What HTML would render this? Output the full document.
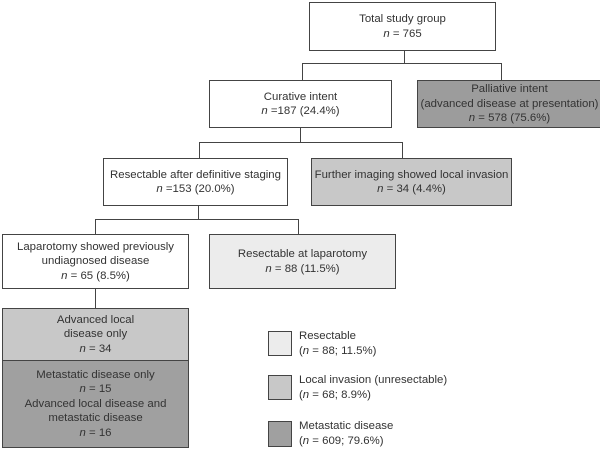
<!DOCTYPE html>
<html><head><style>
body{margin:0;width:600px;height:449px;background:#fff;position:relative;overflow:hidden;font-family:"Liberation Sans",sans-serif;font-size:11.4px;color:#333;}
.b{position:absolute;box-sizing:border-box;border:1px solid #444;display:flex;flex-direction:column;justify-content:center;align-items:center;text-align:center;line-height:14.5px;white-space:nowrap;}
.l{position:absolute;background:#444;}
i{font-style:italic}
.t{position:absolute;line-height:14.5px;}
</style></head><body>
<div class="b" style="left:309px;top:2px;width:187px;height:49px;">Total study group<div><i>n</i> = 765</div></div>
<div class="l" style="left:404px;top:51px;width:1px;height:12px"></div>
<div class="l" style="left:302px;top:63px;width:200px;height:1px"></div>
<div class="l" style="left:302px;top:63px;width:1px;height:17px"></div>
<div class="l" style="left:501px;top:63px;width:1px;height:17px"></div>
<div class="b" style="left:209px;top:80px;width:183px;height:48px;">Curative intent<div><i>n</i> =187 (24.4%)</div></div>
<div class="b" style="left:417px;top:80px;width:185px;height:48px;background:#9c9c9c;">Palliative intent<div>(advanced disease at presentation)</div><div><i>n</i> = 578 (75.6%)</div></div>
<div class="l" style="left:300px;top:128px;width:1px;height:14px"></div>
<div class="l" style="left:199px;top:142px;width:203px;height:1px"></div>
<div class="l" style="left:199px;top:142px;width:1px;height:16px"></div>
<div class="l" style="left:402px;top:142px;width:1px;height:16px"></div>
<div class="b" style="left:103px;top:158px;width:185px;height:48px;">Resectable after definitive staging<div><i>n</i> =153 (20.0%)</div></div>
<div class="b" style="left:311px;top:158px;width:201px;height:48px;background:#c8c8c8;">Further imaging showed local invasion<div><i>n</i> = 34 (4.4%)</div></div>
<div class="l" style="left:198px;top:206px;width:1px;height:13px"></div>
<div class="l" style="left:95px;top:219px;width:204px;height:1px"></div>
<div class="l" style="left:95px;top:219px;width:1px;height:15px"></div>
<div class="l" style="left:298px;top:219px;width:1px;height:15px"></div>
<div class="b" style="left:2px;top:234px;width:187px;height:55px;">Laparotomy showed previously<div>undiagnosed disease</div><div><i>n</i> = 65 (8.5%)</div></div>
<div class="b" style="left:209px;top:234px;width:187px;height:55px;background:#ececec;">Resectable at laparotomy<div><i>n</i> = 88 (11.5%)</div></div>
<div class="l" style="left:95px;top:289px;width:1px;height:19px"></div>
<div class="b" style="left:2px;top:308px;width:187px;height:53px;background:#c8c8c8;">Advanced local<div>disease only</div><div><i>n</i> = 34</div></div>
<div class="b" style="left:2px;top:360px;width:187px;height:88px;background:#a0a0a0;">Metastatic disease only<div><i>n</i> = 15</div><div>Advanced local disease and</div><div>metastatic disease</div><div><i>n</i> = 16</div></div>
<div class="b" style="left:268px;top:331px;width:24px;height:25px;background:#ececec;"></div>
<div class="b" style="left:268px;top:375px;width:24px;height:25px;background:#c8c8c8;"></div>
<div class="b" style="left:268px;top:421px;width:24px;height:26px;background:#a0a0a0;"></div>
<div class="t" style="left:299px;top:329px;">Resectable<br>(<i>n</i> = 88; 11.5%)</div>
<div class="t" style="left:299px;top:373px;">Local invasion (unresectable)<br>(<i>n</i> = 68; 8.9%)</div>
<div class="t" style="left:299px;top:419px;">Metastatic disease<br>(<i>n</i> = 609; 79.6%)</div>
</body></html>
